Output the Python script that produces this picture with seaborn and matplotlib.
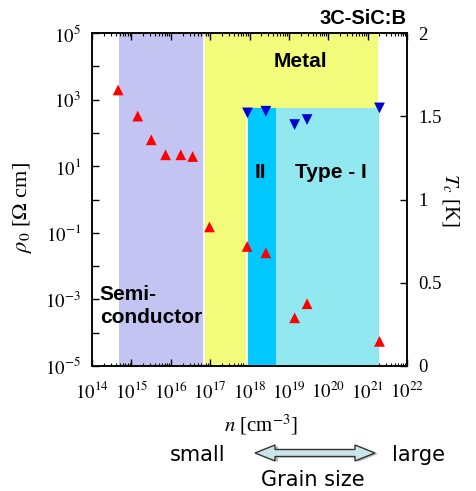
import numpy as np
import seaborn as sns
import matplotlib.pyplot as plt
from matplotlib.patches import Polygon
from matplotlib.ticker import FixedLocator, FixedFormatter, LogLocator, NullFormatter

# resistivity rho_0 vs carrier density (red up-triangles)
n_rho = [4.6e14, 1.45e15, 3.2e15, 7.4e15, 1.8e16, 3.6e16, 9.6e16,
         8.7e17, 2.6e18, 1.4e19, 2.9e19, 2.0e21]
rho0 = [1950, 320, 62, 22, 22, 19.5, 0.15,
        0.039, 0.025, 2.8e-4, 7.4e-4, 5.5e-5]

# superconducting Tc vs carrier density (blue down-triangles)
n_tc = [8.9e17, 2.6e18, 1.4e19, 2.9e19, 2.0e21]
tc = [1.52, 1.53, 1.45, 1.48, 1.55]

# shaded regions (n bounds)
semi_n = (4.9e14, 6.9e16)
metal_n = (6.9e16, 1.8e21)
type2_n = (8.5e17, 4.7e18)
type1_n = (4.7e18, 2.0e21)
sc_tc_top = 1.55

x_ticks = [10.0 ** k for k in range(14, 23)]
x_labels = [rf'$10^{{{k}}}$' for k in range(14, 23)]
y_ticks = [10.0 ** k for k in range(-5, 6)]
y_labels = [rf'$10^{{{k}}}$' if k % 2 else '' for k in range(-5, 6)]
tc_ticks = [0, 0.5, 1, 1.5, 2]
tc_labels = ['0', '0.5', '1', '1.5', '2']

sns.set_style('ticks')
plt.rcParams['font.family'] = ['Liberation Serif', 'DejaVu Serif']
plt.rcParams['mathtext.fontset'] = 'stix'
plt.rcParams['axes.unicode_minus'] = False
plt.rcParams['axes.linewidth'] = 1.1
for key in ['text.color', 'axes.labelcolor', 'xtick.color', 'ytick.color', 'axes.edgecolor']:
    plt.rcParams[key] = 'black'
sans = ['Liberation Sans', 'DejaVu Sans']

W, H = 476, 491
fig = plt.figure(figsize=(W / 100, H / 100), dpi=100)
ax = fig.add_axes([92 / W, 1 - 366 / H, 315 / W, 333 / H])
ax.set_xscale('log')
ax.set_yscale('log')
ax.set_xlim(1e14, 1e22)
ax.set_ylim(1e-5, 1e5)

frac = sc_tc_top / 2.0
ax.axvspan(*semi_n, color='#c4c4f2', lw=0, zorder=0)
ax.axvspan(*metal_n, color='#f2fc7a', lw=0, zorder=0)
ax.axvspan(*type2_n, ymax=frac, color='#00c8ff', lw=0, zorder=1)
ax.axvspan(*type1_n, ymax=frac, color='#92e8f0', lw=0, zorder=1)
ax.axvline(metal_n[0], color='white', lw=1.2, zorder=1)
ax.axvline(type2_n[0], ymax=frac, color='white', lw=1.2, zorder=2)

sns.scatterplot(x=n_rho, y=rho0, marker='^', color='#ff0000', s=60,
                edgecolor='none', ax=ax, zorder=5, legend=False)

ax2 = ax.twinx()
ax2.set_ylim(0, 2)
sns.scatterplot(x=n_tc, y=tc, marker='v', color='#0000d0', s=60,
                edgecolor='none', ax=ax2, zorder=5, legend=False)
ax.set_xlim(1e14, 1e22)

ax.xaxis.set_major_locator(FixedLocator(x_ticks))
ax.xaxis.set_major_formatter(FixedFormatter(x_labels))
ax.xaxis.set_minor_locator(LogLocator(base=10, subs=np.arange(2, 10), numticks=20))
ax.xaxis.set_minor_formatter(NullFormatter())
ax.yaxis.set_major_locator(FixedLocator(y_ticks))
ax.yaxis.set_major_formatter(FixedFormatter(y_labels))
ax.yaxis.set_minor_locator(FixedLocator([]))
ax.tick_params(axis='x', which='major', direction='in', top=True, length=5,
               width=1, labelsize=13.5, pad=11)
ax.tick_params(axis='x', which='minor', direction='in', top=True, length=2.5, width=0.8)
ax.tick_params(axis='y', which='major', direction='in', length=5, width=1,
               labelsize=13.5, pad=8)
ax.set_xlabel(r'$n$ [cm$^{-3}$]', fontsize=15, va='center')
ax.xaxis.set_label_coords(0.535, -0.177)
ax.set_ylabel(r'$\rho_0$ [$\Omega$ cm]', fontsize=16, va='center')
ax.yaxis.set_label_coords(-0.222, 0.477)

ax2.yaxis.set_major_locator(FixedLocator(tc_ticks))
ax2.yaxis.set_major_formatter(FixedFormatter(tc_labels))
ax2.tick_params(axis='y', direction='in', length=5, width=1, labelsize=13.5, pad=8)
ax2.set_ylabel(r'$T_c$ [K]', fontsize=15, rotation=270, va='center')
ax2.yaxis.set_label_coords(1.137, 0.5)

ax.text(0.663, 0.913, 'Metal', transform=ax.transAxes, family=sans,
        fontweight='bold', fontsize=15, ha='center', va='center', zorder=6)
ax.text(0.533, 0.58, 'II', transform=ax.transAxes, family=sans,
        fontweight='bold', fontsize=15, ha='center', va='center', zorder=6)
ax.text(0.759, 0.58, 'Type - I', transform=ax.transAxes, family=sans,
        fontweight='bold', fontsize=15, ha='center', va='center', zorder=6)
ax.text(0.025, 0.18, 'Semi-\nconductor', transform=ax.transAxes, family=sans,
        fontweight='bold', fontsize=15, ha='left', va='center',
        linespacing=1.25, zorder=6)

fig.text(407 / W, 1 - 18 / H, '3C-SiC:B', family=sans, fontweight='bold',
         fontsize=14.5, ha='right', va='center')

# grain size arrow
arrow_px = [(255, 453), (275, 445), (275, 449.5), (355, 449.5), (355, 445),
            (375, 453), (355, 461), (355, 456.5), (275, 456.5), (275, 461)]
shadow = Polygon([(x / W + 3 / W, 1 - (y + 1) / H) for x, y in arrow_px],
                 closed=True, transform=fig.transFigure, fc='#bbbbbb', ec='none')
fig.patches.append(shadow)
arrow = Polygon([(x / W, 1 - y / H) for x, y in arrow_px], closed=True,
                transform=fig.transFigure, fc='#c8e6ea', ec='#333333', lw=1)
fig.patches.append(arrow)
fig.text(198 / W, 1 - 455 / H, 'small', family=['DejaVu Sans'], fontsize=15,
         ha='center', va='center')
fig.text(419 / W, 1 - 455 / H, 'large', family=['DejaVu Sans'], fontsize=15,
         ha='center', va='center')
fig.text(313 / W, 1 - 480 / H, 'Grain size', family=['DejaVu Sans'], fontsize=15,
         ha='center', va='center')

fig.savefig('out.png', dpi=100)
